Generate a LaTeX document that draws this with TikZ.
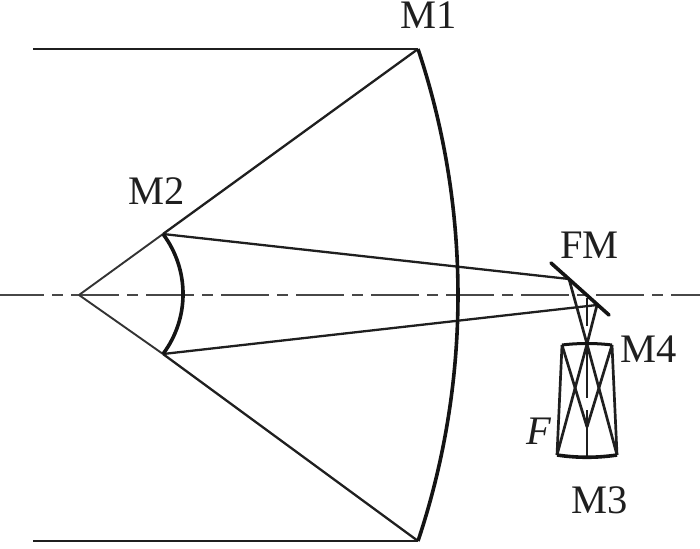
\documentclass[tikz,border=0pt]{standalone}
\usepackage{fontspec}
\setmainfont{Liberation Serif}
\tikzset{
  ray/.style={line width=2.3pt,draw=black!88},
  lensray/.style={line width=2.7pt,draw=black!88},
  thinray/.style={line width=1.9pt,draw=black!80},
  mirror/.style={line width=3.6pt,draw=black!92},
  axisline/.style={line width=2.6pt,draw=black!72,dash pattern=on 48pt off 8pt on 11pt off 8pt},
  lab/.style={inner sep=0pt,anchor=base west,font=\fontsize{40.5}{40.5}\selectfont,text=black!88}
}
\begin{document}
\begin{tikzpicture}[x=1pt,y=-1pt]
\useasboundingbox (0,0) rectangle (700,548);
% named points
\coordinate (inT) at (33,49);
\coordinate (inB) at (33,541);
\coordinate (m1T) at (418,49);
\coordinate (m1B) at (418,541);
\coordinate (apex) at (79,295);
\coordinate (m2T) at (163,234);
\coordinate (m2B) at (163,354);
\coordinate (fmA) at (551,263);
\coordinate (fmB) at (609,315);
\coordinate (fmU) at (569,279);
\coordinate (fmL) at (597,305);
\coordinate (m4C) at (587,344);
\coordinate (m4L) at (562,345);
\coordinate (m4R) at (612,345);
\coordinate (m3L) at (557,455);
\coordinate (m3R) at (617,455);
\coordinate (m3C) at (587,457);
\coordinate (cross) at (587,427);
\coordinate (axL) at (-4,295);
\coordinate (axR) at (700,295);
\coordinate (vA) at (587,298);
\coordinate (vB) at (587,326);
\coordinate (vC) at (587,398);
\coordinate (vD) at (587,410);
% axis
\draw[axisline] (axL) -- (axR);
% rays
\draw[ray] (inT) -- (m1T);
\draw[ray] (inB) -- (m1B);
\draw[thinray] (apex) -- (m2T);
\draw[thinray] (apex) -- (m2B);
\draw[ray] (m2T) -- (m1T);
\draw[ray] (m2B) -- (m1B);
\draw[ray] (m2T) -- (fmU);
\draw[ray] (m2B) -- (fmL);
\draw[lensray] (fmU) -- (m4C);
\draw[lensray] (fmL) -- (m4C);
\draw[lensray] (vA) -- (vB);
\draw[lensray] (m4C) -- (vC);
\draw[lensray] (vD) -- (m3C);
\draw[lensray] (m4L) -- (m3L);
\draw[lensray] (m4R) -- (m3R);
\draw[lensray] (m4C) -- (m3L);
\draw[lensray] (m4C) -- (m3R);
\draw[lensray] (m4L) -- (cross);
\draw[lensray] (m4R) -- (cross);
% mirrors
\draw[mirror] (m1T) .. controls (471.3,208.6) and (471.3,381.4) .. (m1B);
\draw[mirror] (m2T) .. controls (189.7,269.6) and (189.7,318.4) .. (m2B);
\draw[mirror,line cap=round] (fmA) -- (fmB);
\draw[mirror,line width=3pt] (m4L) .. controls (578,343) and (596,343) .. (m4R);
\draw[mirror] (m3L) .. controls (577,458) and (597,458) .. (m3R);
% labels
\node[lab] (lm1) at (400,29) {M1};
\node[lab] (lm2) at (128,204) {M2};
\node[lab] (lfm) at (560,258) {FM};
\node[lab] (lm4) at (620,362) {M4};
\node[lab] (lm3) at (571,513) {M3};
\node[lab] (lf) at (526,444) {\itshape F};
\end{tikzpicture}
\end{document}
